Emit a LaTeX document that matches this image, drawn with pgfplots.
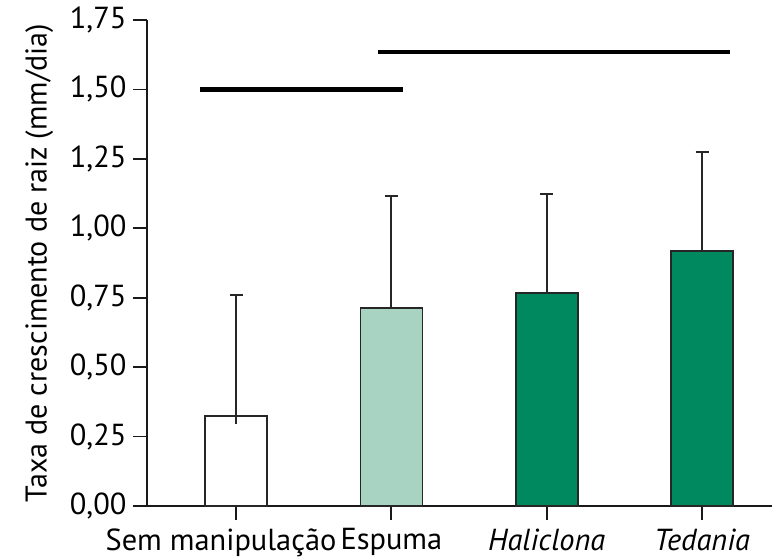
\documentclass[border=0pt]{standalone}
\usepackage{fontspec}
\setmainfont{PT Sans}
\usepackage{pgfplots}
\pgfplotsset{compat=1.18}
\definecolor{lightg}{RGB}{168,211,195}
\definecolor{darkg}{RGB}{0,137,94}
\begin{document}
\fontsize{15.2}{18}\selectfont
\begin{tikzpicture}
\begin{axis}[
  name=ax,
  scale only axis,
  width=312.5pt, height=243pt,
  xmin=-0.573, xmax=3.45,
  ymin=0, ymax=1.75,
  axis x line=bottom,
  axis y line=left,
  every non boxed x axis/.append style={xtick align=outside},
  every non boxed y axis/.append style={ytick align=outside},
  axis line style={-, line width=0.9pt, black!90},
  ytick={0,0.25,...,1.75},
  xtick={0,1,2,3},
  xticklabels={\hspace*{-15pt}Sem manipulação, Espuma, \textit{Haliclona}, \textit{Tedania}},
  /pgf/number format/assume math mode=true,
  ticklabel style={font=\fontsize{15.2}{18}\selectfont},
  yticklabel style={xshift=2pt, /pgf/number format/fixed, /pgf/number format/fixed zerofill, /pgf/number format/precision=2, /pgf/number format/use comma},
  xticklabel style={yshift=1pt},
  ylabel={Taxa de crescimento de raiz (mm/dia)},
  ylabel style={font=\fontsize{15}{18}\selectfont, yshift=-2pt},
  tick align=outside,
  major tick length=7pt,
  tick style={black!90, line width=0.9pt},
  clip=false,
]
\addplot[ybar, bar width=31pt, bar shift=0pt, fill=white, draw=black!85, line width=0.8pt] coordinates {(0,0.325)};
\addplot[ybar, bar width=31pt, bar shift=0pt, fill=lightg, draw=black!85, line width=0.8pt] coordinates {(1,0.712)};
\addplot[ybar, bar width=31pt, bar shift=0pt, fill=darkg, draw=black!85, line width=0.8pt] coordinates {(2,0.766)};
\addplot[ybar, bar width=31pt, bar shift=0pt, fill=darkg, draw=black!85, line width=0.8pt] coordinates {(3,0.919)};
\addplot[draw=none, mark=none, sharp plot,
  error bars/.cd, y dir=plus, y explicit,
  error bar style={black!85, line width=0.9pt},
  error mark options={black!85, mark size=3.25pt, line width=0.9pt, rotate=90}]
  table[x=x, y=y, y error=e] {
  x y e
  0 0.325 0.435
  1 0.712 0.404
  2 0.766 0.358
  3 0.919 0.357
};
\addplot[sharp plot, black!85, line width=0.9pt, mark=none] coordinates {(0,0.295) (0,0.325)};
\addplot[sharp plot, black, line width=2.2pt, mark=none] coordinates {(-0.232,1.50) (1.075,1.50)};
\addplot[sharp plot, black, line width=2.2pt, mark=none] coordinates {(0.914,1.635) (3.18,1.635)};
\end{axis}
\pgfresetboundingbox
\path ([xshift=-73.5pt,yshift=-25.5pt]ax.south west) rectangle ([xshift=2.5pt,yshift=10pt]ax.north east);
\end{tikzpicture}
\end{document}
